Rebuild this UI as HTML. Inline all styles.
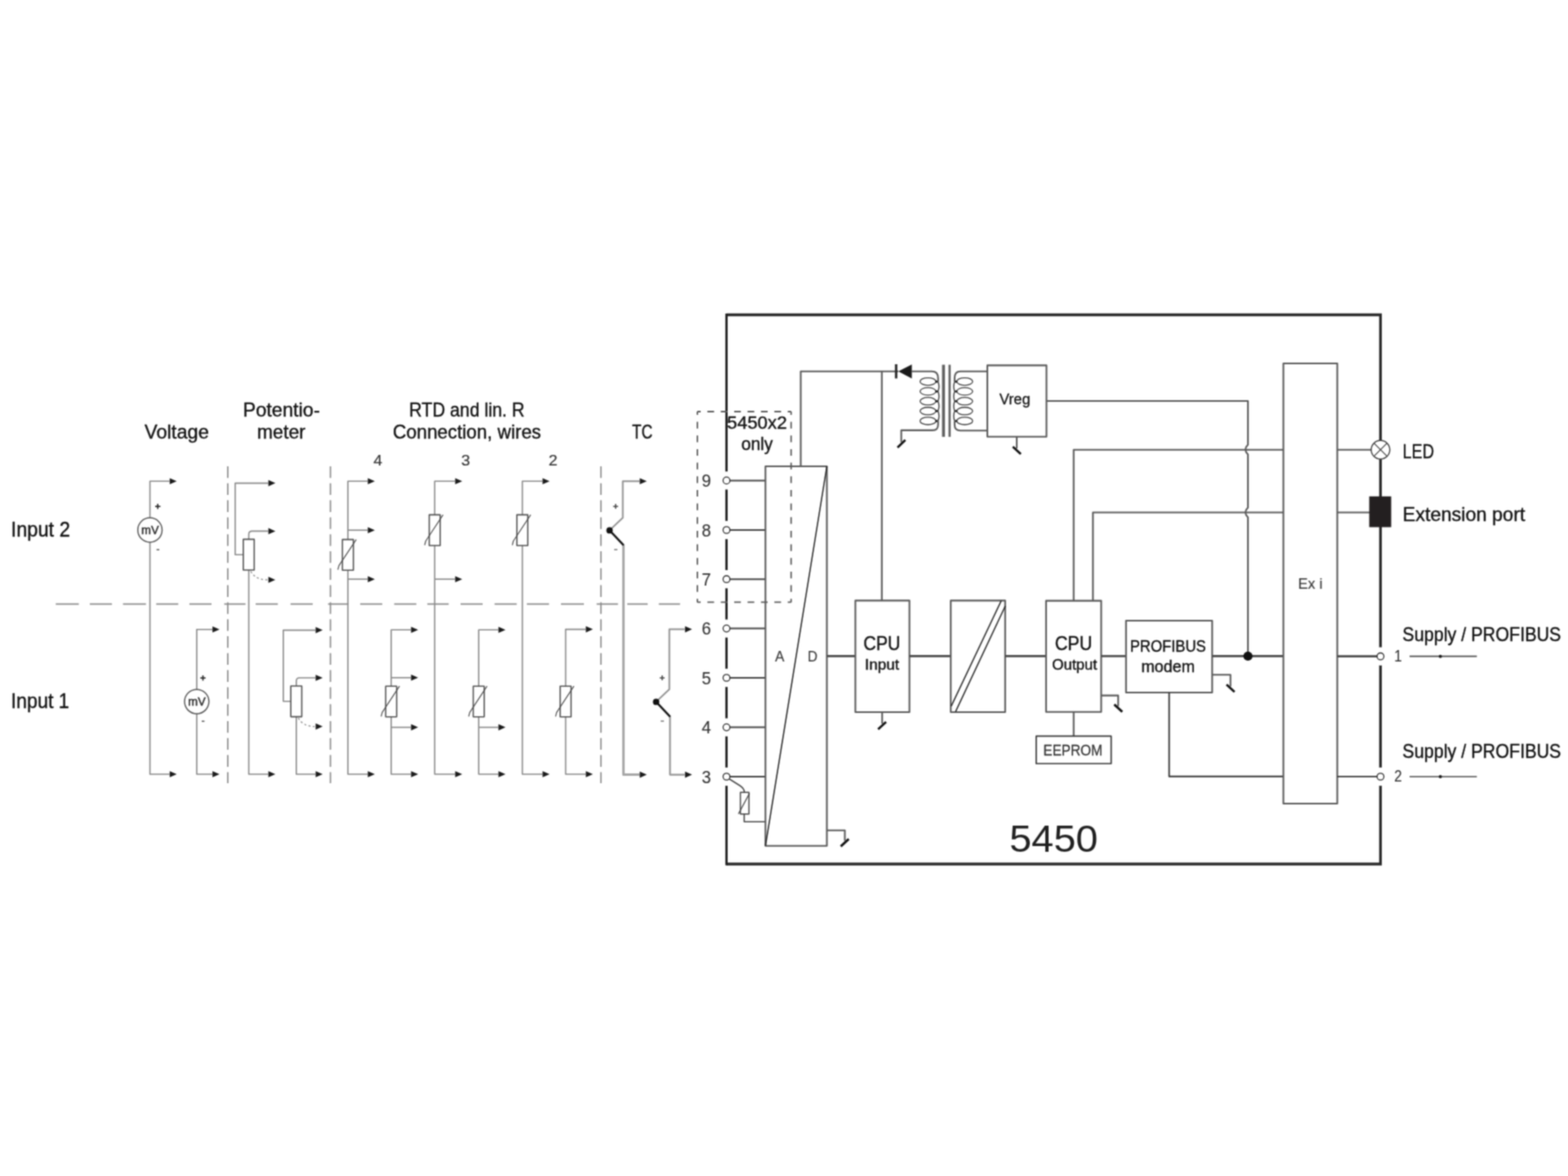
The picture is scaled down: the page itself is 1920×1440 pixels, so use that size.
<!DOCTYPE html>
<html lang="en">
<head>
<meta charset="utf-8">
<title>5450 block diagram</title>
<style>
html,body{margin:0;padding:0;background:#fff;}
body{width:1920px;height:1440px;overflow:hidden;}
#diagram{display:block;width:1920px;height:1440px;font-family:"Liberation Sans",sans-serif;stroke-linejoin:round;}
</style>
</head>
<body>
<svg id="diagram" width="1920" height="1440" viewBox="0 0 1920 1440">
<defs><filter id="soft" x="0" y="0" width="1920" height="1440" filterUnits="userSpaceOnUse" color-interpolation-filters="sRGB"><feConvolveMatrix order="5" kernelMatrix="1 10 22 10 1 10 100 220 100 10 22 220 484 220 22 10 100 220 100 10 1 10 22 10 1" divisor="1936" edgeMode="duplicate" preserveAlpha="false"/></filter></defs>
<g filter="url(#soft)">
<rect x="0" y="0" width="1920" height="1440" fill="#fff"/>
<g id="separators">
<path d="M278.9 571 L278.9 959" stroke="#8a8a8a" stroke-width="1.7" fill="none" stroke-dasharray="14.3 6.5"/>
<path d="M404.6 571 L404.6 959" stroke="#8a8a8a" stroke-width="1.7" fill="none" stroke-dasharray="14.3 6.5"/>
<path d="M735.8 571 L735.8 959" stroke="#8a8a8a" stroke-width="1.7" fill="none" stroke-dasharray="14.3 6.5"/>
<path d="M68.3 739.6 H96.5 M110 739.6 H137.1 M150.6 739.6 H178.7 M191.3 739.6 H218.3 M231.9 739.6 H259 M274.6 739.6 H300.6 M313.1 739.6 H340.2 M355.8 739.6 H382.9 M401.7 739.6 H426.7 M441.1 739.6 H468.1 M482.7 739.6 H509.8 M523.3 739.6 H549.4 M564 739.6 H591 M605.6 739.6 H632.7 M645.2 739.6 H672.3 M686.9 739.6 H715 M730.6 739.6 H756.7 M768.1 739.6 H793.1 M806.7 739.6 H832.7" stroke="#8a8a8a" stroke-width="1.9" fill="none"/>
</g>
<g id="labels">
<text x="13.6" y="657.4" font-size="25" fill="#111" stroke="#111" stroke-width="0.42" textLength="72.2" lengthAdjust="spacingAndGlyphs">Input 2</text>
<text x="13.6" y="867.4" font-size="25" fill="#111" stroke="#111" stroke-width="0.42" textLength="71.2" lengthAdjust="spacingAndGlyphs">Input 1</text>
<text x="177" y="537.3" font-size="24.5" fill="#111" stroke="#111" stroke-width="0.42" textLength="78.8" lengthAdjust="spacingAndGlyphs">Voltage</text>
<text x="297.5" y="509.8" font-size="24.5" fill="#111" stroke="#111" stroke-width="0.42" textLength="94.3" lengthAdjust="spacingAndGlyphs">Potentio-</text>
<text x="314.8" y="537.3" font-size="24.5" fill="#111" stroke="#111" stroke-width="0.42" textLength="59.2" lengthAdjust="spacingAndGlyphs">meter</text>
<text x="501" y="509.8" font-size="24.5" fill="#111" stroke="#111" stroke-width="0.42" textLength="141.5" lengthAdjust="spacingAndGlyphs">RTD and lin. R</text>
<text x="481" y="537.3" font-size="24.5" fill="#111" stroke="#111" stroke-width="0.42" textLength="181.5" lengthAdjust="spacingAndGlyphs">Connection, wires</text>
<text x="774" y="537.3" font-size="24.5" fill="#111" stroke="#111" stroke-width="0.42" textLength="25" lengthAdjust="spacingAndGlyphs">TC</text>
<text x="457.3" y="569.6" font-size="18.5" fill="#333" stroke="#333" stroke-width="0.2" textLength="10.9" lengthAdjust="spacingAndGlyphs">4</text>
<text x="564.8" y="569.6" font-size="18.5" fill="#333" stroke="#333" stroke-width="0.2" textLength="10.9" lengthAdjust="spacingAndGlyphs">3</text>
<text x="671.8" y="569.6" font-size="18.5" fill="#333" stroke="#333" stroke-width="0.2" textLength="10.9" lengthAdjust="spacingAndGlyphs">2</text>
</g>
<g id="voltage">
<path d="M207.6 589.2 L183.6 589.2 L183.6 948 L207.6 948" stroke="#888" stroke-width="1.6" fill="none"/>
<path d="M216.4 589.2 L207.8 585.4 L207.8 593 Z" fill="#1a1a1a"/>
<path d="M216.4 948 L207.8 944.2 L207.8 951.8 Z" fill="#1a1a1a"/>
<circle cx="183.6" cy="649" r="14.9" stroke="#555" stroke-width="1.5" fill="#fff"/>
<text x="173" y="653.6" font-size="14.5" fill="#2a2a2a" stroke="#2a2a2a" stroke-width="0.5" textLength="21.4" lengthAdjust="spacingAndGlyphs">mV</text>
<path d="M190 620.1 L196.4 620.1" stroke="#2a2a2a" stroke-width="1.7" fill="none"/>
<path d="M193.2 616.9 L193.2 623.3" stroke="#2a2a2a" stroke-width="1.7" fill="none"/>
<path d="M191.7 673.1 L195.1 673.1" stroke="#555" stroke-width="1.5" fill="none"/>
<path d="M260 770.8 L240.9 770.8 L240.9 948 L260 948" stroke="#888" stroke-width="1.6" fill="none"/>
<path d="M268.8 770.8 L260.2 767 L260.2 774.6 Z" fill="#1a1a1a"/>
<path d="M268.8 948 L260.2 944.2 L260.2 951.8 Z" fill="#1a1a1a"/>
<circle cx="240.9" cy="859.1" r="14.9" stroke="#555" stroke-width="1.5" fill="#fff"/>
<text x="230.3" y="863.7" font-size="14.5" fill="#2a2a2a" stroke="#2a2a2a" stroke-width="0.5" textLength="21.4" lengthAdjust="spacingAndGlyphs">mV</text>
<path d="M245.3 830.2 L251.7 830.2" stroke="#2a2a2a" stroke-width="1.7" fill="none"/>
<path d="M248.5 827 L248.5 833.4" stroke="#2a2a2a" stroke-width="1.7" fill="none"/>
<path d="M247 883.2 L250.4 883.2" stroke="#555" stroke-width="1.5" fill="none"/>
</g>
<g id="potentiometer">
<path d="M328.4 591.6 L288 591.6 L288 679.2 L298.6 679.2" stroke="#888" stroke-width="1.6" fill="none"/>
<path d="M337.2 591.6 L328.6 587.8 L328.6 595.4 Z" fill="#1a1a1a"/>
<path d="M304.6 660.4 L304.6 654.4 Q304.6 650.4 308.6 650.4 L328.4 650.4" stroke="#888" stroke-width="1.6" fill="none"/>
<path d="M337.2 650.4 L328.6 646.6 L328.6 654.2 Z" fill="#1a1a1a"/>
<path d="M304.6 698 L304.6 948 L328.4 948" stroke="#888" stroke-width="1.6" fill="none"/>
<path d="M337.2 948 L328.6 944.2 L328.6 951.8 Z" fill="#1a1a1a"/>
<path d="M307.1 699.5 Q312.6 710 327.4 710" stroke="#8a8a8a" stroke-width="1.3" fill="none" stroke-dasharray="2.6 2.8"/>
<path d="M337.2 710 L328.6 706.2 L328.6 713.8 Z" fill="#1a1a1a"/>
<rect x="297.9" y="660.4" width="13.4" height="37.6" stroke="#505050" stroke-width="1.6" fill="#fff"/>
<path d="M386.3 771.6 L346.9 771.6 L346.9 858.8 L356.8 858.8" stroke="#888" stroke-width="1.6" fill="none"/>
<path d="M395.1 771.6 L386.5 767.8 L386.5 775.4 Z" fill="#1a1a1a"/>
<path d="M362.8 840 L362.8 834 Q362.8 830 366.8 830 L386.3 830" stroke="#888" stroke-width="1.6" fill="none"/>
<path d="M395.1 830 L386.5 826.2 L386.5 833.8 Z" fill="#1a1a1a"/>
<path d="M362.8 877.6 L362.8 948 L386.3 948" stroke="#888" stroke-width="1.6" fill="none"/>
<path d="M395.1 948 L386.5 944.2 L386.5 951.8 Z" fill="#1a1a1a"/>
<path d="M365.3 879.1 Q370.8 889.6 385.3 889.6" stroke="#8a8a8a" stroke-width="1.3" fill="none" stroke-dasharray="2.6 2.8"/>
<path d="M395.1 889.6 L386.5 885.8 L386.5 893.4 Z" fill="#1a1a1a"/>
<rect x="356.1" y="840" width="13.4" height="37.6" stroke="#505050" stroke-width="1.6" fill="#fff"/>
</g>
<g id="rtd">
<path d="M450.2 589.2 L426 589.2 L426 948 L450.2 948" stroke="#888" stroke-width="1.6" fill="none"/>
<path d="M459 589.2 L450.4 585.4 L450.4 593 Z" fill="#1a1a1a"/>
<path d="M459 948 L450.4 944.2 L450.4 951.8 Z" fill="#1a1a1a"/>
<path d="M426 649.2 L450.2 649.2" stroke="#888" stroke-width="1.6" fill="none"/>
<path d="M459 649.2 L450.4 645.4 L450.4 653 Z" fill="#1a1a1a"/>
<path d="M426 709.2 L450.2 709.2" stroke="#888" stroke-width="1.6" fill="none"/>
<path d="M459 709.2 L450.4 705.4 L450.4 713 Z" fill="#1a1a1a"/>
<rect x="419.3" y="660.6" width="13.4" height="37.6" stroke="#505050" stroke-width="1.6" fill="#fff"/>
<path d="M413.7 697.7 L415 692.7 L436.2 660.6" stroke="#4a4a4a" stroke-width="1.2" fill="none"/>
<path d="M557.2 589.2 L532.3 589.2 L532.3 948 L557.2 948" stroke="#888" stroke-width="1.6" fill="none"/>
<path d="M566 589.2 L557.4 585.4 L557.4 593 Z" fill="#1a1a1a"/>
<path d="M566 948 L557.4 944.2 L557.4 951.8 Z" fill="#1a1a1a"/>
<path d="M532.3 709.2 L557.2 709.2" stroke="#888" stroke-width="1.6" fill="none"/>
<path d="M566 709.2 L557.4 705.4 L557.4 713 Z" fill="#1a1a1a"/>
<rect x="525.6" y="630.4" width="13.4" height="37.6" stroke="#505050" stroke-width="1.6" fill="#fff"/>
<path d="M520 667.5 L521.3 662.5 L542.5 630.4" stroke="#4a4a4a" stroke-width="1.2" fill="none"/>
<path d="M664.2 589.2 L639.6 589.2 L639.6 948 L664.2 948" stroke="#888" stroke-width="1.6" fill="none"/>
<path d="M673 589.2 L664.4 585.4 L664.4 593 Z" fill="#1a1a1a"/>
<path d="M673 948 L664.4 944.2 L664.4 951.8 Z" fill="#1a1a1a"/>
<rect x="632.9" y="630.4" width="13.4" height="37.6" stroke="#505050" stroke-width="1.6" fill="#fff"/>
<path d="M627.3 667.5 L628.6 662.5 L649.8 630.4" stroke="#4a4a4a" stroke-width="1.2" fill="none"/>
<path d="M503.2 771.2 L479 771.2 L479 948 L503.2 948" stroke="#888" stroke-width="1.6" fill="none"/>
<path d="M512 771.2 L503.4 767.4 L503.4 775 Z" fill="#1a1a1a"/>
<path d="M512 948 L503.4 944.2 L503.4 951.8 Z" fill="#1a1a1a"/>
<path d="M479 829.8 L503.2 829.8" stroke="#888" stroke-width="1.6" fill="none"/>
<path d="M512 829.8 L503.4 826 L503.4 833.6 Z" fill="#1a1a1a"/>
<path d="M479 890.6 L503.2 890.6" stroke="#888" stroke-width="1.6" fill="none"/>
<path d="M512 890.6 L503.4 886.8 L503.4 894.4 Z" fill="#1a1a1a"/>
<rect x="472.3" y="840.2" width="13.4" height="37.6" stroke="#505050" stroke-width="1.6" fill="#fff"/>
<path d="M466.7 877.3 L468 872.3 L489.2 840.2" stroke="#4a4a4a" stroke-width="1.2" fill="none"/>
<path d="M610.2 771.2 L586.2 771.2 L586.2 948 L610.2 948" stroke="#888" stroke-width="1.6" fill="none"/>
<path d="M619 771.2 L610.4 767.4 L610.4 775 Z" fill="#1a1a1a"/>
<path d="M619 948 L610.4 944.2 L610.4 951.8 Z" fill="#1a1a1a"/>
<path d="M586.2 890.6 L610.2 890.6" stroke="#888" stroke-width="1.6" fill="none"/>
<path d="M619 890.6 L610.4 886.8 L610.4 894.4 Z" fill="#1a1a1a"/>
<rect x="579.5" y="840.2" width="13.4" height="37.6" stroke="#505050" stroke-width="1.6" fill="#fff"/>
<path d="M573.9 877.3 L575.2 872.3 L596.4 840.2" stroke="#4a4a4a" stroke-width="1.2" fill="none"/>
<path d="M717.2 770.6 L692.6 770.6 L692.6 948 L717.2 948" stroke="#888" stroke-width="1.6" fill="none"/>
<path d="M726 770.6 L717.4 766.8 L717.4 774.4 Z" fill="#1a1a1a"/>
<path d="M726 948 L717.4 944.2 L717.4 951.8 Z" fill="#1a1a1a"/>
<rect x="685.9" y="840.2" width="13.4" height="37.6" stroke="#505050" stroke-width="1.6" fill="#fff"/>
<path d="M680.3 877.3 L681.6 872.3 L702.8 840.2" stroke="#4a4a4a" stroke-width="1.2" fill="none"/>
</g>
<g id="thermocouple">
<path d="M783.2 589.2 L762.6 589.2 L762.6 634 L746.4 649.4" stroke="#909090" stroke-width="2" fill="none"/>
<path d="M792 589.2 L783.4 585.4 L783.4 593 Z" fill="#1a1a1a"/>
<path d="M763.4 667 L763.4 948.6 L783.2 948.6" stroke="#a6a6a6" stroke-width="3" fill="none"/>
<path d="M792 948.6 L783.4 944.8 L783.4 952.4 Z" fill="#1a1a1a"/>
<path d="M746.4 649.4 L763.6 667.6" stroke="#111" stroke-width="2.5" fill="none"/>
<circle cx="746.4" cy="649.4" r="3.9" fill="#111"/>
<path d="M750.8 620.1 L756.8 620.1" stroke="#444" stroke-width="1.5" fill="none"/>
<path d="M753.8 617.1 L753.8 623.1" stroke="#444" stroke-width="1.5" fill="none"/>
<path d="M752 673 L756 673" stroke="#777" stroke-width="1.5" fill="none"/>
<path d="M838.6 770.6 L819.6 770.6 L819.6 844 L803.4 859.4" stroke="#909090" stroke-width="2" fill="none"/>
<path d="M847.4 770.6 L838.8 766.8 L838.8 774.4 Z" fill="#1a1a1a"/>
<path d="M820.4 877 L820.4 948.6 L838.6 948.6" stroke="#969696" stroke-width="2.2" fill="none"/>
<path d="M847.4 948.6 L838.8 944.8 L838.8 952.4 Z" fill="#1a1a1a"/>
<path d="M803.4 859.4 L820.6 877.6" stroke="#111" stroke-width="2.5" fill="none"/>
<circle cx="803.4" cy="859.4" r="3.9" fill="#111"/>
<path d="M807.8 830.1 L813.8 830.1" stroke="#444" stroke-width="1.5" fill="none"/>
<path d="M810.8 827.1 L810.8 833.1" stroke="#444" stroke-width="1.5" fill="none"/>
<path d="M809 883 L813 883" stroke="#777" stroke-width="1.5" fill="none"/>
</g>
<g id="module">
<path d="M889.6 385.5 H1690.4 V1058 H889.6" stroke="#2a2a2a" stroke-width="3.3" fill="none" stroke-linejoin="miter"/>
<path d="M889.6 383.9 L889.6 1059.6" stroke="#1c1c1c" stroke-width="2.8" fill="none"/>
<circle cx="889.6" cy="588.4" r="11.2" fill="#fff"/>
<circle cx="889.6" cy="649" r="11.2" fill="#fff"/>
<circle cx="889.6" cy="709.2" r="11.2" fill="#fff"/>
<circle cx="889.6" cy="769.6" r="11.2" fill="#fff"/>
<circle cx="889.6" cy="830" r="11.2" fill="#fff"/>
<circle cx="889.6" cy="890.6" r="11.2" fill="#fff"/>
<circle cx="889.6" cy="951" r="11.2" fill="#fff"/>
<circle cx="1690.4" cy="803.7" r="11.2" fill="#fff"/>
<circle cx="1690.4" cy="951" r="11.2" fill="#fff"/>
<path d="M893.6 588.4 L937.3 588.4" stroke="#444" stroke-width="2" fill="none"/>
<path d="M893.6 649 L937.3 649" stroke="#444" stroke-width="2" fill="none"/>
<path d="M893.6 709.2 L937.3 709.2" stroke="#444" stroke-width="2" fill="none"/>
<path d="M893.6 769.6 L937.3 769.6" stroke="#444" stroke-width="2" fill="none"/>
<path d="M893.6 830 L937.3 830" stroke="#444" stroke-width="2" fill="none"/>
<path d="M893.6 890.6 L937.3 890.6" stroke="#444" stroke-width="2" fill="none"/>
<path d="M893.6 951 L937.3 951" stroke="#444" stroke-width="2" fill="none"/>
<path d="M892.5 953.5 L906 962 Q911.5 965.5 911.5 970.2" stroke="#444" stroke-width="1.5" fill="none"/>
<rect x="906.6" y="970.2" width="10.5" height="26.6" stroke="#444" stroke-width="1.5" fill="#fff"/>
<path d="M904.2 996.6 L917.8 971.4" stroke="#444" stroke-width="1.2" fill="none"/>
<path d="M911.3 996.8 L911.3 1006.3 L937.3 1006.3" stroke="#444" stroke-width="1.6" fill="none"/>
<circle cx="889.6" cy="588.4" r="4.2" stroke="#2a2a2a" stroke-width="1.3" fill="#fff"/>
<text x="859.3" y="595.9" font-size="21.5" fill="#333" stroke="#333" stroke-width="0.15" textLength="11.4" lengthAdjust="spacingAndGlyphs">9</text>
<circle cx="889.6" cy="649" r="4.2" stroke="#2a2a2a" stroke-width="1.3" fill="#fff"/>
<text x="859.3" y="656.5" font-size="21.5" fill="#333" stroke="#333" stroke-width="0.15" textLength="11.4" lengthAdjust="spacingAndGlyphs">8</text>
<circle cx="889.6" cy="709.2" r="4.2" stroke="#2a2a2a" stroke-width="1.3" fill="#fff"/>
<text x="859.3" y="716.7" font-size="21.5" fill="#333" stroke="#333" stroke-width="0.15" textLength="11.4" lengthAdjust="spacingAndGlyphs">7</text>
<circle cx="889.6" cy="769.6" r="4.2" stroke="#2a2a2a" stroke-width="1.3" fill="#fff"/>
<text x="859.3" y="777.1" font-size="21.5" fill="#333" stroke="#333" stroke-width="0.15" textLength="11.4" lengthAdjust="spacingAndGlyphs">6</text>
<circle cx="889.6" cy="830" r="4.2" stroke="#2a2a2a" stroke-width="1.3" fill="#fff"/>
<text x="859.3" y="837.5" font-size="21.5" fill="#333" stroke="#333" stroke-width="0.15" textLength="11.4" lengthAdjust="spacingAndGlyphs">5</text>
<circle cx="889.6" cy="890.6" r="4.2" stroke="#2a2a2a" stroke-width="1.3" fill="#fff"/>
<text x="859.3" y="898.1" font-size="21.5" fill="#333" stroke="#333" stroke-width="0.15" textLength="11.4" lengthAdjust="spacingAndGlyphs">4</text>
<circle cx="889.6" cy="951" r="4.2" stroke="#2a2a2a" stroke-width="1.3" fill="#fff"/>
<text x="859.3" y="958.5" font-size="21.5" fill="#333" stroke="#333" stroke-width="0.15" textLength="11.4" lengthAdjust="spacingAndGlyphs">3</text>
<rect x="937.3" y="571" width="75.2" height="464.7" stroke="#5a5a5a" stroke-width="2.1" fill="#fff"/>
<path d="M1012.5 571 L937.3 1035.7" stroke="#1c1c1c" stroke-width="1.5" fill="none"/>
<text x="949" y="809.5" font-size="19" fill="#3a3a3a" stroke="#3a3a3a" stroke-width="0.15" textLength="11.5" lengthAdjust="spacingAndGlyphs">A</text>
<text x="989" y="809.5" font-size="19" fill="#3a3a3a" stroke="#3a3a3a" stroke-width="0.15" textLength="12" lengthAdjust="spacingAndGlyphs">D</text>
<path d="M853.9 504 L968.7 504" stroke="#5a5a5a" stroke-width="1.8" fill="none" stroke-dasharray="8.2 8.2" stroke-dashoffset="4.1"/>
<path d="M853.9 737.4 L968.7 737.4" stroke="#5a5a5a" stroke-width="1.8" fill="none" stroke-dasharray="8.2 8.2" stroke-dashoffset="4.1"/>
<path d="M853.9 504 L853.9 737.4" stroke="#5a5a5a" stroke-width="1.8" fill="none" stroke-dasharray="8.2 8.47" stroke-dashoffset="4.1"/>
<path d="M968.7 504 L968.7 737.4" stroke="#5a5a5a" stroke-width="1.8" fill="none" stroke-dasharray="8.2 8.47" stroke-dashoffset="4.1"/>
<text x="890.3" y="525.2" font-size="22.5" fill="#111" stroke="#111" stroke-width="0.42" textLength="73.3" lengthAdjust="spacingAndGlyphs">5450x2</text>
<text x="907.7" y="550.6" font-size="22.5" fill="#111" stroke="#111" stroke-width="0.42" textLength="38.6" lengthAdjust="spacingAndGlyphs">only</text>
<path d="M1012.5 1016.8 L1034.5 1016.8 L1034.5 1029.5" stroke="#5a5a5a" stroke-width="2.1" fill="none"/>
<path d="M1039.3 1027.4 L1029.5 1036.4" stroke="#111" stroke-width="2.8" fill="none"/>
<path d="M980.5 571 L980.5 454.7 L1100 454.7" stroke="#5a5a5a" stroke-width="2.1" fill="none"/>
<path d="M1079.8 454.7 L1079.8 735.5" stroke="#5a5a5a" stroke-width="2.1" fill="none"/>
<path d="M1097.3 446 L1097.3 463.4" stroke="#2a2a2a" stroke-width="3" fill="none"/>
<path d="M1100 454.7 L1116.5 446.2 L1116.5 463.4 Z" fill="#1a1a1a"/>
<ellipse cx="1136.3" cy="467.2" rx="9.7" ry="4.6" stroke="#3a3a3a" stroke-width="1.3" fill="none"/>
<ellipse cx="1136.3" cy="479.25" rx="9.7" ry="4.6" stroke="#3a3a3a" stroke-width="1.3" fill="none"/>
<ellipse cx="1136.3" cy="491.3" rx="9.7" ry="4.6" stroke="#3a3a3a" stroke-width="1.3" fill="none"/>
<ellipse cx="1136.3" cy="503.35" rx="9.7" ry="4.6" stroke="#3a3a3a" stroke-width="1.3" fill="none"/>
<ellipse cx="1136.3" cy="515.4" rx="9.7" ry="4.6" stroke="#3a3a3a" stroke-width="1.3" fill="none"/>
<path d="M1148.6 467.2 Q1151 473.23 1148.6 479.25 Q1151 485.27 1148.6 491.3 Q1151 497.33 1148.6 503.35 Q1151 509.38 1148.6 515.4" stroke="#3a3a3a" stroke-width="1.4" fill="none"/>
<circle cx="1146.9" cy="467.2" r="1.5" fill="#222"/>
<circle cx="1146.9" cy="479.25" r="1.5" fill="#222"/>
<circle cx="1146.9" cy="491.3" r="1.5" fill="#222"/>
<circle cx="1146.9" cy="503.35" r="1.5" fill="#222"/>
<circle cx="1146.9" cy="515.4" r="1.5" fill="#222"/>
<ellipse cx="1181.3" cy="467.2" rx="9.7" ry="4.6" stroke="#3a3a3a" stroke-width="1.3" fill="none"/>
<ellipse cx="1181.3" cy="479.25" rx="9.7" ry="4.6" stroke="#3a3a3a" stroke-width="1.3" fill="none"/>
<ellipse cx="1181.3" cy="491.3" rx="9.7" ry="4.6" stroke="#3a3a3a" stroke-width="1.3" fill="none"/>
<ellipse cx="1181.3" cy="503.35" rx="9.7" ry="4.6" stroke="#3a3a3a" stroke-width="1.3" fill="none"/>
<ellipse cx="1181.3" cy="515.4" rx="9.7" ry="4.6" stroke="#3a3a3a" stroke-width="1.3" fill="none"/>
<path d="M1169 467.2 Q1166.6 473.23 1169 479.25 Q1166.6 485.27 1169 491.3 Q1166.6 497.33 1169 503.35 Q1166.6 509.38 1169 515.4" stroke="#3a3a3a" stroke-width="1.4" fill="none"/>
<circle cx="1170.7" cy="467.2" r="1.5" fill="#222"/>
<circle cx="1170.7" cy="479.25" r="1.5" fill="#222"/>
<circle cx="1170.7" cy="491.3" r="1.5" fill="#222"/>
<circle cx="1170.7" cy="503.35" r="1.5" fill="#222"/>
<circle cx="1170.7" cy="515.4" r="1.5" fill="#222"/>
<path d="M1116 454.7 L1141 454.7 Q1148.7 454.7 1148.7 463 L1148.7 467.2 M1148.7 515.4 L1148.7 520 Q1148.7 526.9 1142 526.9 L1103.6 526.9 L1103.6 541.5" stroke="#5a5a5a" stroke-width="2.1" fill="none"/>
<path d="M1108.6 538.8 L1099 548" stroke="#111" stroke-width="2.8" fill="none"/>
<path d="M1209 454.7 L1176 454.7 Q1168.9 454.7 1168.9 463 L1168.9 467.2 M1168.9 515.4 L1168.9 520 Q1168.9 527.3 1176 527.3 L1209 527.3" stroke="#5a5a5a" stroke-width="2.1" fill="none"/>
<path d="M1155.3 446.6 L1155.3 534.9" stroke="#606060" stroke-width="3.6" fill="none"/>
<path d="M1162.8 446.6 L1162.8 534.9" stroke="#606060" stroke-width="2.7" fill="none"/>
<rect x="1209" y="447.4" width="72.4" height="87.4" stroke="#5a5a5a" stroke-width="2.1" fill="#fff"/>
<text x="1223.8" y="494.7" font-size="18" fill="#111" stroke="#111" stroke-width="0.3" textLength="37.8" lengthAdjust="spacingAndGlyphs">Vreg</text>
<path d="M1245 534.8 L1245 549.1" stroke="#5a5a5a" stroke-width="2.1" fill="none"/>
<path d="M1240.2 547 L1250 556" stroke="#111" stroke-width="2.8" fill="none"/>
<path d="M1281.4 491 L1528.1 491 L1528.1 544.6 Q1522 550.6 1528.1 556.6 L1528.1 621.5 Q1522 627.5 1528.1 633.5 L1528.1 803.5" stroke="#5a5a5a" stroke-width="2.1" fill="none"/>
<path d="M1314.7 735.5 L1314.7 550.7 L1571.5 550.7" stroke="#5a5a5a" stroke-width="2.1" fill="none"/>
<path d="M1338.3 735.5 L1338.3 627.5 L1571.5 627.5" stroke="#5a5a5a" stroke-width="2.1" fill="none"/>
<path d="M1012.5 803.4 L1047.4 803.4" stroke="#4a4a4a" stroke-width="2.6" fill="none"/>
<rect x="1047.4" y="735.4" width="66.2" height="136.6" stroke="#5a5a5a" stroke-width="2.1" fill="#fff"/>
<text x="1057.2" y="795.8" font-size="24.5" fill="#111" stroke="#111" stroke-width="0.42" textLength="45.3" lengthAdjust="spacingAndGlyphs">CPU</text>
<text x="1059" y="819.9" font-size="17.5" fill="#111" stroke="#111" stroke-width="0.42" textLength="42" lengthAdjust="spacingAndGlyphs">Input</text>
<path d="M1080.2 872 L1080.2 886.1" stroke="#5a5a5a" stroke-width="2.1" fill="none"/>
<path d="M1085 884 L1075.2 893" stroke="#111" stroke-width="2.8" fill="none"/>
<path d="M1113.6 803.4 L1164.2 803.4" stroke="#4a4a4a" stroke-width="2.6" fill="none"/>
<rect x="1164.2" y="735.4" width="66.6" height="136.6" stroke="#5a5a5a" stroke-width="2.1" fill="#fff"/>
<path d="M1164.8 864.6 L1226 735.6" stroke="#222" stroke-width="1.5" fill="none"/>
<path d="M1170 871.6 L1231 742" stroke="#222" stroke-width="1.5" fill="none"/>
<path d="M1230.8 803.4 L1280.9 803.4" stroke="#4a4a4a" stroke-width="2.6" fill="none"/>
<rect x="1280.9" y="735.6" width="67.5" height="136.2" stroke="#5a5a5a" stroke-width="2.1" fill="#fff"/>
<text x="1291.7" y="795.8" font-size="24.5" fill="#111" stroke="#111" stroke-width="0.42" textLength="45.8" lengthAdjust="spacingAndGlyphs">CPU</text>
<text x="1288.3" y="820" font-size="17.5" fill="#111" stroke="#111" stroke-width="0.42" textLength="55" lengthAdjust="spacingAndGlyphs">Output</text>
<path d="M1348.4 851.6 L1369.2 851.6 L1369.2 864.7" stroke="#5a5a5a" stroke-width="2.1" fill="none"/>
<path d="M1364.4 862.6 L1374.2 871.6" stroke="#111" stroke-width="2.8" fill="none"/>
<path d="M1314.7 871.8 L1314.7 901.4" stroke="#5a5a5a" stroke-width="2.1" fill="none"/>
<rect x="1268.8" y="901.4" width="91.8" height="33.6" stroke="#333" stroke-width="1.7" fill="#fff"/>
<text x="1277.5" y="925.4" font-size="19" fill="#333" stroke="#333" stroke-width="0.3" textLength="72.5" lengthAdjust="spacingAndGlyphs">EEPROM</text>
<path d="M1348.4 803.4 L1378.8 803.4" stroke="#4a4a4a" stroke-width="2.6" fill="none"/>
<rect x="1378.8" y="760" width="105.5" height="88" stroke="#5a5a5a" stroke-width="2.1" fill="#fff"/>
<text x="1383.7" y="798.4" font-size="20" fill="#111" stroke="#111" stroke-width="0.42" textLength="93" lengthAdjust="spacingAndGlyphs">PROFIBUS</text>
<text x="1397.5" y="823" font-size="20.5" fill="#111" stroke="#111" stroke-width="0.42" textLength="65.5" lengthAdjust="spacingAndGlyphs">modem</text>
<path d="M1484.3 826.3 L1506.7 826.3 L1506.7 840.4" stroke="#5a5a5a" stroke-width="2.1" fill="none"/>
<path d="M1501.9 838.3 L1511.7 847.3" stroke="#111" stroke-width="2.8" fill="none"/>
<path d="M1484.3 803.4 L1571.5 803.4" stroke="#4a4a4a" stroke-width="2.6" fill="none"/>
<circle cx="1528.1" cy="803.4" r="5.6" fill="#111"/>
<path d="M1431.6 848 L1431.6 950.8 L1571.5 950.8" stroke="#333" stroke-width="1.9" fill="none"/>
<rect x="1571.5" y="445" width="66" height="539" stroke="#5a5a5a" stroke-width="2.1" fill="#fff"/>
<text x="1589.5" y="721" font-size="19" fill="#3a3a3a" stroke="#3a3a3a" stroke-width="0.15" textLength="30" lengthAdjust="spacingAndGlyphs">Ex i</text>
<path d="M1637.5 550.7 L1680 550.7" stroke="#5a5a5a" stroke-width="2.1" fill="none"/>
<path d="M1637.5 627.5 L1677 627.5" stroke="#5a5a5a" stroke-width="2.1" fill="none"/>
<path d="M1637.5 803.6 L1686 803.6" stroke="#4a4a4a" stroke-width="2.6" fill="none"/>
<path d="M1637.5 950.9 L1686 950.9" stroke="#333" stroke-width="1.9" fill="none"/>
<circle cx="1690.4" cy="550.7" r="11.4" stroke="#3a3a3a" stroke-width="1.4" fill="#fff"/>
<path d="M1682.4 542.7 L1698.4 558.7" stroke="#333" stroke-width="1.2" fill="none"/>
<path d="M1698.4 542.7 L1682.4 558.7" stroke="#333" stroke-width="1.2" fill="none"/>
<rect x="1676.6" y="607.8" width="26.9" height="37.7" stroke="none" stroke-width="0" fill="#231f20"/>
<circle cx="1690.4" cy="803.7" r="4.2" stroke="#2a2a2a" stroke-width="1.3" fill="#fff"/>
<circle cx="1690.4" cy="951" r="4.2" stroke="#2a2a2a" stroke-width="1.3" fill="#fff"/>
<text x="1717.5" y="560.5" font-size="24.5" fill="#111" stroke="#111" stroke-width="0.42" textLength="38.5" lengthAdjust="spacingAndGlyphs">LED</text>
<text x="1717.5" y="638" font-size="24.5" fill="#111" stroke="#111" stroke-width="0.42" textLength="150" lengthAdjust="spacingAndGlyphs">Extension port</text>
<text x="1717.3" y="784.8" font-size="24" fill="#111" stroke="#111" stroke-width="0.42" textLength="194.2" lengthAdjust="spacingAndGlyphs">Supply / PROFIBUS</text>
<text x="1717.3" y="928.4" font-size="24" fill="#111" stroke="#111" stroke-width="0.42" textLength="194.2" lengthAdjust="spacingAndGlyphs">Supply / PROFIBUS</text>
<text x="1707.2" y="810.2" font-size="20.5" fill="#333" stroke="#333" stroke-width="0.15" textLength="9.4" lengthAdjust="spacingAndGlyphs">1</text>
<text x="1707.2" y="957.2" font-size="20.5" fill="#333" stroke="#333" stroke-width="0.15" textLength="9.4" lengthAdjust="spacingAndGlyphs">2</text>
<path d="M1726 803.7 L1808.4 803.7" stroke="#4a4a4a" stroke-width="1.7" fill="none"/>
<circle cx="1763.7" cy="803.7" r="2" fill="#1a1a1a"/>
<path d="M1726 951 L1808.4 951" stroke="#4a4a4a" stroke-width="1.7" fill="none"/>
<circle cx="1763.7" cy="951" r="2" fill="#1a1a1a"/>
<text x="1236" y="1042.5" font-size="46" fill="#1f1f1f" textLength="108.5" lengthAdjust="spacingAndGlyphs">5450</text>
</g>
</g>
</svg>
</body>
</html>
